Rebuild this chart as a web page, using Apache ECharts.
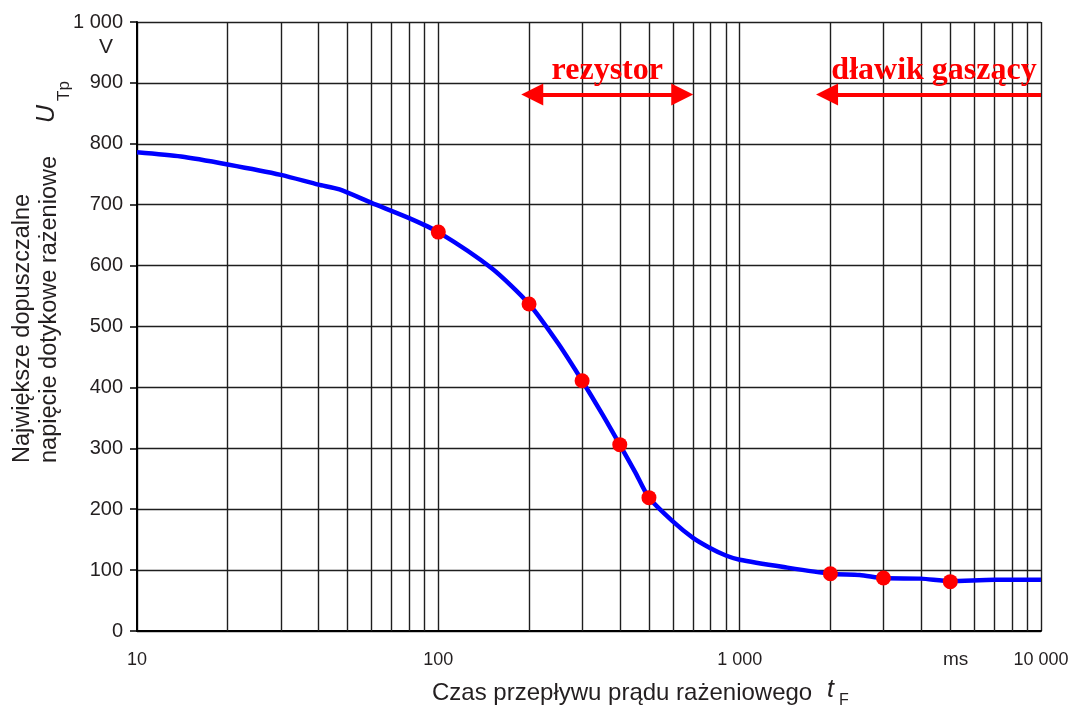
<!DOCTYPE html>
<html>
<head>
<meta charset="utf-8">
<script src="https://cdn.jsdelivr.net/npm/echarts@6/dist/echarts.min.js"></script>
<style>html,body{margin:0;padding:0;background:#fff}#c{width:1075px;height:710px}</style>
</head>
<body>
<div id="c"></div>
<script>
// ---- data ----
const curveTime = [10, 14, 20, 30, 40, 47, 60, 80, 100, 150, 200, 250, 300, 350, 400, 450, 500, 600, 700, 800, 900, 1000, 1400, 2000, 2500, 3000, 4000, 5000, 7000, 10000];
const curveVoltage = [786, 779, 766, 749, 733, 725, 703, 678, 655, 596, 537, 472, 411, 356, 306, 261, 219, 180, 153, 136, 124, 117, 105, 94, 92, 87, 86, 82, 84, 84];
const pointTime = [100, 200, 300, 400, 500, 2000, 3000, 5000];
const pointVoltage = [655, 537, 411, 306, 219, 94, 87, 81];
const minorTimes = [20, 30, 40, 50, 60, 70, 80, 90, 200, 300, 400, 500, 600, 700, 800, 900, 2000, 3000, 4000, 5000, 6000, 7000, 8000, 9000];
const xTickLabels = {'10': '10', '100': '100', '1000': '1 000', '10000': '10 000'};
const yTickLabels = {'1000': '1 000'};
const rezystorRange = [205, 645];
const dlawikRange = [1950, 10000];
const arrowLevel = 881;

const textColor = '#231f20';
const gridColor = '#1e1e1e';

const chart = echarts.init(document.getElementById('c'), null, {renderer: 'canvas'});
const option = {
  backgroundColor: '#fff',
  animation: false,
  grid: {left: 137, right: 34, top: 22, bottom: 79, containLabel: false},
  xAxis: {
    type: 'log', logBase: 10, min: 10, max: 10000,
    axisLine: {show: true, lineStyle: {color: '#000', width: 2}},
    axisTick: {show: false},
    splitLine: {show: true, lineStyle: {color: gridColor, width: 1.4}},
    axisLabel: {
      show: true, margin: 20, fontSize: 18, color: textColor, fontFamily: 'Liberation Sans',
      showMinLabel: true, showMaxLabel: true,
      formatter: v => xTickLabels[String(Math.round(v))] || ''
    }
  },
  yAxis: {
    type: 'value', min: 0, max: 1000, interval: 100,
    axisLine: {show: true, lineStyle: {color: '#000', width: 2}},
    axisTick: {show: true, inside: false, length: 7, lineStyle: {color: '#000', width: 1.5}},
    splitLine: {show: true, lineStyle: {color: gridColor, width: 1.4}},
    axisLabel: {
      margin: 14, fontSize: 20, color: textColor, fontFamily: 'Liberation Sans',
      formatter: v => yTickLabels[String(v)] || String(v)
    }
  },
  series: [
    {
      type: 'line',
      data: curveTime.map((t, i) => [t, curveVoltage[i]]),
      smooth: 0.25,
      showSymbol: false,
      lineStyle: {color: '#0000ff', width: 4.5},
      z: 3,
      markLine: {
        silent: true,
        symbol: ['none', 'none'],
        label: {show: false},
        lineStyle: {color: gridColor, width: 1.4, type: 'solid'},
        emphasis: {disabled: true},
        data: minorTimes.map(t => ({xAxis: t})),
        z: 1
      }
    },
    {
      type: 'scatter',
      data: pointTime.map((t, i) => [t, pointVoltage[i]]),
      symbol: 'circle',
      symbolSize: 15,
      itemStyle: {color: '#ff0000', opacity: 1},
      clip: false,
      z: 4,
      markLine: {
        silent: true,
        symbolSize: [22, 22],
        lineStyle: {color: '#ff0000', width: 4, type: 'solid'},
        emphasis: {disabled: true},
        label: {
          show: true, position: 'middle', distance: 8,
          color: '#ff0000', fontSize: 32, fontWeight: 'bold', fontFamily: 'Liberation Serif'
        },
        data: [
          [{coord: [rezystorRange[0], arrowLevel], symbol: 'triangle', name: 'rezystor',
            label: {formatter: 'rezystor'}},
           {coord: [rezystorRange[1], arrowLevel], symbol: 'triangle'}],
          [{coord: [dlawikRange[0], arrowLevel], symbol: 'triangle', name: 'dławik gaszący',
            label: {formatter: 'dławik gaszący'}},
           {coord: [dlawikRange[1], arrowLevel], symbol: 'none'}]
        ]
      }
    }
  ],
  graphic: [
    {type: 'text', left: 99, top: 37, style: {text: 'V', fontSize: 21, fill: textColor, fontFamily: 'Liberation Sans'}},
    {type: 'text', left: 943, top: 650, style: {text: 'ms', fontSize: 19, fill: textColor, fontFamily: 'Liberation Sans'}},
    {type: 'text', x: 432, y: 693, style: {text: 'Czas przepływu prądu rażeniowego', fontSize: 24, fill: textColor, fontFamily: 'Liberation Sans', textAlign: 'left', textVerticalAlign: 'middle'}},
    {type: 'text', x: 827, y: 690, style: {text: 't', fontSize: 25, fontStyle: 'italic', fill: textColor, fontFamily: 'Liberation Sans', textAlign: 'left', textVerticalAlign: 'middle'}},
    {type: 'text', x: 839, y: 701, style: {text: 'F', fontSize: 16, fill: textColor, fontFamily: 'Liberation Sans', textAlign: 'left', textVerticalAlign: 'middle'}},
    {type: 'text', x: 23, y: 463, rotation: Math.PI / 2, style: {text: 'Największe dopuszczalne', fontSize: 23.5, fill: textColor, fontFamily: 'Liberation Sans', textAlign: 'left', textVerticalAlign: 'middle'}},
    {type: 'text', x: 50, y: 463, rotation: Math.PI / 2, style: {text: 'napięcie dotykowe rażeniowe', fontSize: 23.5, fill: textColor, fontFamily: 'Liberation Sans', textAlign: 'left', textVerticalAlign: 'middle'}},
    {type: 'text', x: 47, y: 123, rotation: Math.PI / 2, style: {text: 'U', fontSize: 25, fontStyle: 'italic', fill: textColor, fontFamily: 'Liberation Sans', textAlign: 'left', textVerticalAlign: 'middle'}},
    {type: 'text', x: 64, y: 101, rotation: Math.PI / 2, style: {text: 'Tp', fontSize: 17, fill: textColor, fontFamily: 'Liberation Sans', textAlign: 'left', textVerticalAlign: 'middle'}}
  ]
};
chart.setOption(option);
</script>
</body>
</html>
